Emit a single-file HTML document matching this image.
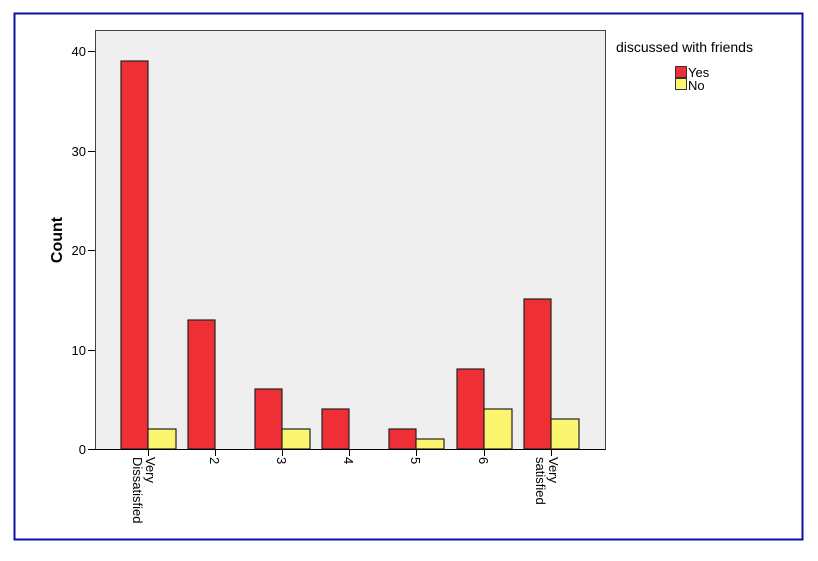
<!DOCTYPE html>
<html><head><style>body{margin:0;background:#fff}</style></head><body>
<svg width="818" height="556" xmlns="http://www.w3.org/2000/svg" font-family="Liberation Sans, Arial, sans-serif">
<rect x="0" y="0" width="818" height="556" fill="#fff"/>
<rect x="14.5" y="13.5" width="788" height="526" fill="none" stroke="#1010a0" stroke-width="2"/>
<rect x="95.5" y="30.5" width="510" height="419" fill="#efefef" stroke="#444" stroke-width="1"/>
<g stroke="#000" stroke-width="1">
<line x1="88" y1="449.5" x2="95" y2="449.5"/><line x1="88" y1="350.5" x2="95" y2="350.5"/>
<line x1="88" y1="250.5" x2="95" y2="250.5"/><line x1="88" y1="151.5" x2="95" y2="151.5"/>
<line x1="88" y1="51.5" x2="95" y2="51.5"/>
</g>
<g font-size="13" text-anchor="end" fill="#000">
<text x="86" y="454">0</text><text x="86" y="355">10</text><text x="86" y="255">20</text><text x="86" y="156">30</text><text x="86" y="56">40</text>
</g>
<text transform="translate(62,240) rotate(-90)" font-size="16" font-weight="bold" text-anchor="middle">Count</text>
<g stroke="#222" stroke-width="1.2">
<rect x="121" y="61" width="27" height="388" fill="#ee3036"/><rect x="148" y="429" width="28" height="20" fill="#fbf56f"/>
<rect x="188" y="320" width="27" height="129" fill="#ee3036"/>
<rect x="255" y="389" width="27" height="60" fill="#ee3036"/><rect x="282" y="429" width="28" height="20" fill="#fbf56f"/>
<rect x="322" y="409" width="27" height="40" fill="#ee3036"/>
<rect x="389" y="429" width="27" height="20" fill="#ee3036"/><rect x="416" y="439" width="28" height="10" fill="#fbf56f"/>
<rect x="457" y="369" width="27" height="80" fill="#ee3036"/><rect x="484" y="409" width="28" height="40" fill="#fbf56f"/>
<rect x="524" y="299" width="27" height="150" fill="#ee3036"/><rect x="551" y="419" width="28" height="30" fill="#fbf56f"/>
</g>
<line x1="95" y1="449.5" x2="605" y2="449.5" stroke="#000"/>
<g stroke="#000">
<line x1="148.5" y1="449" x2="148.5" y2="456"/><line x1="215.5" y1="449" x2="215.5" y2="456"/>
<line x1="282.5" y1="449" x2="282.5" y2="456"/><line x1="349.5" y1="449" x2="349.5" y2="456"/>
<line x1="416.5" y1="449" x2="416.5" y2="456"/><line x1="484.5" y1="449" x2="484.5" y2="456"/>
<line x1="551.5" y1="449" x2="551.5" y2="456"/>
</g>
<g font-size="13" fill="#000">
<text transform="translate(146,457) rotate(90)">Very</text>
<text transform="translate(133,457) rotate(90)">Dissatisfied</text>
<text transform="translate(210,457) rotate(90)">2</text>
<text transform="translate(277,457) rotate(90)">3</text>
<text transform="translate(344,457) rotate(90)">4</text>
<text transform="translate(411,457) rotate(90)">5</text>
<text transform="translate(479,457) rotate(90)">6</text>
<text transform="translate(549,457) rotate(90)">Very</text>
<text transform="translate(536,457) rotate(90)">satisfied</text>
</g>
<text x="616" y="52" font-size="14">discussed with friends</text>
<rect x="675.5" y="66.5" width="11" height="11" fill="#ee3036" stroke="#333"/>
<rect x="675.5" y="78.5" width="11" height="11" fill="#fbf56f" stroke="#333"/>
<text x="688" y="77" font-size="13">Yes</text>
<text x="688" y="90" font-size="13">No</text>
</svg>
</body></html>
